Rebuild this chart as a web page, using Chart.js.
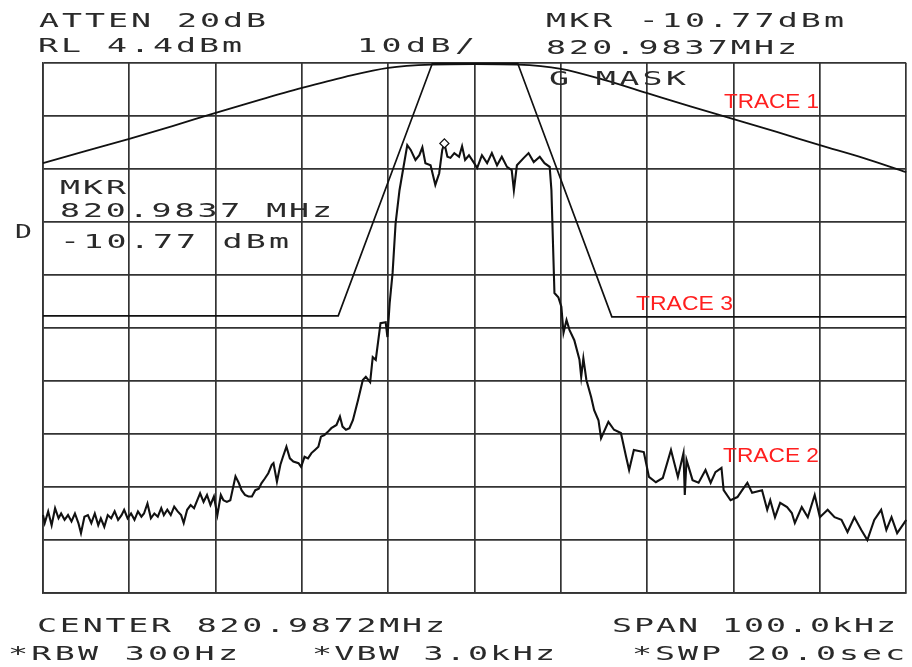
<!DOCTYPE html>
<html><head><meta charset="utf-8">
<script src="https://cdn.jsdelivr.net/npm/chart.js@4/dist/chart.umd.min.js"></script>
<style>html,body{margin:0;padding:0;background:#fff}#wrap{width:912px;height:667px;position:relative;background:#fff}</style>
</head><body><div id="wrap"><canvas id="c" width="912" height="667"></canvas></div>
<script>
// ---- DATA (frequency offset from centre in kHz, level in dBm) ----
const xGridKHz = [-50,-40,-30,-20,-10,0,10,20,30,40,50];
const yGridDBm = [4.4,-5.6,-15.6,-25.6,-35.6,-45.6,-55.6,-65.6,-75.6,-85.6,-95.6];

const trace1Freq  = [-50,-45,-40,-35,-30,-25,-20,-15,-10,-5,0,5,10,15,20,25,30,35,40,45,50];
const trace1Level = [-14.5,-12.2,-9.9,-7.5,-5.0,-2.6,-0.3,1.8,3.5,4.1,4.2,4.1,3.3,1.2,-1.3,-3.8,-6.2,-8.6,-11.1,-13.5,-16.2];

const maskFreq  = [-50,-15.8,-4.9,5.0,15.9,50];
const maskLevel = [-43.3,-43.3,4.3,4.3,-43.5,-43.5];

const trace2Freq = [
-50.0,-49.8,-49.4,-49.0,-48.6,-48.2,-47.9,-47.5,-47.1,-46.7,-46.3,-45.9,-45.6,-45.2,-44.8,-44.4,-44.0,-43.6,-43.3,-42.9,
-42.5,-42.1,-41.7,-41.3,-40.9,-40.6,-40.2,-39.8,-39.4,-39.0,-38.6,-38.3,-37.9,-37.5,-37.1,-36.7,-36.3,-36.0,-35.6,-35.2,
-34.8,-34.4,-34.0,-33.7,-33.3,-32.9,-32.5,-32.1,-31.8,-31.4,-31.0,-30.6,-30.2,-29.8,-29.4,
-29.1,-28.7,-28.3,-27.7,-27.3,-27.0,-26.6,-26.2,-25.8,-25.4,-25.0,-24.7,-24.3,-23.9,-23.5,-23.3,-22.9,-22.5,-22.2,-21.8,
-21.4,-21.0,-20.4,-20.1,-19.7,-19.3,-18.9,-18.5,-18.1,-17.8,-17.4,-17.0,-16.6,-16.0,-15.6,-15.3,-14.9,-14.5,-14.1,-13.5,
-12.95,-12.6,-12.1,-11.8,-11.45,-10.9,-10.3,-10.1,-9.84,-9.5,-9.15,-8.7,-8.55,
-7.8,-7.4,-6.85,-6.4,-6.05,-5.7,-5.1,-4.55,-4.1,-3.75,-3.5,-3.15,-2.8,-2.35,-1.8,-1.45,-1.1,-0.65,-0.05,0.3,
0.85,1.45,2.0,2.6,3.15,3.75,4.3,4.55,4.9,5.7,6.25,6.85,7.55,8.1,8.7,
8.9,9.25,9.7,10.05,10.3,10.65,11.0,11.55,12.15,12.35,12.6,12.95,13.5,13.85,14.35,14.65,15.5,16.15,16.95,17.55,
17.9,18.45,19.6,20.2,21.0,21.8,22.75,23.55,24.2,24.35,24.55,25.25,25.95,26.75,27.35,27.9,28.6,28.85,29.65,30.45,
31.0,31.6,32.15,33.3,33.9,34.25,34.8,35.4,36.2,36.75,37.1,37.9,38.6,39.4,40.0,40.9,41.7,42.5,43.2,44.0,
44.8,45.5,46.3,47.1,47.7,48.3,48.95,49.75,50.0];
const trace2Level = [
-80.9,-82.4,-80.2,-82.8,-79.6,-81.5,-80.6,-81.8,-80.9,-82.1,-80.6,-82.4,-84.3,-81.2,-80.9,-82.4,-80.6,-82.8,-81.5,-83.1,
-80.9,-81.5,-80.2,-81.8,-80.9,-79.9,-81.5,-80.6,-81.8,-80.2,-81.2,-80.6,-78.7,-81.5,-80.6,-81.2,-79.6,-80.9,-79.9,-80.9,
-79.3,-80.2,-80.9,-82.4,-79.9,-79.0,-79.6,-78.0,-76.8,-78.4,-77.1,-79.0,-77.4,-80.9,-77.1,
-78.1,-78.4,-78.1,-73.6,-74.9,-76.2,-77.1,-77.4,-77.4,-76.2,-75.9,-74.9,-74.0,-73.0,-71.4,-71.1,-74.6,-71.4,-69.9,-68.0,
-70.2,-70.8,-71.1,-71.8,-69.9,-70.2,-69.2,-68.6,-68.0,-66.1,-65.8,-65.2,-64.5,-63.9,-62.3,-64.2,-64.8,-64.5,-63.0,-59.2,
-55.4,-54.8,-55.8,-51.1,-51.6,-44.7,-44.5,-47.3,-40.9,-35.2,-25.8,-19.6,-18.2,
-11.1,-12.0,-13.9,-13.0,-11.5,-14.5,-14.9,-18.6,-16.4,-12.0,-10.77,-13.3,-13.5,-12.6,-13.3,-11.3,-13.9,-13.0,-14.5,-15.4,
-13.0,-14.5,-12.6,-14.9,-13.3,-15.2,-15.8,-19.6,-14.9,-13.5,-12.6,-14.3,-13.3,-14.5,-15.2,
-19.6,-39.0,-39.8,-41.6,-46.5,-44.1,-46.0,-47.9,-51.6,-54.8,-51.3,-55.4,-58.6,-61.1,-63.0,-66.4,-63.3,-64.8,-65.4,-69.9,
-72.4,-68.6,-69.0,-73.7,-74.7,-73.9,-68.6,-73.7,-69.2,-77.1,-70.5,-74.3,-74.8,-72.4,-74.8,-72.8,-72.0,-76.2,-78.1,-77.5,
-76.2,-74.8,-76.7,-76.2,-79.9,-78.1,-81.3,-78.6,-79.4,-80.5,-82.4,-79.4,-81.3,-77.1,-81.3,-79.9,-81.3,-81.8,-84.1,-81.3,
-83.7,-85.6,-81.8,-79.9,-83.7,-81.3,-84.3,-82.4,-81.8];

const markerFreq  = [-3.5];
const markerLevel = [-10.77];

// ---- TEXT ----
const monoLabels = [
  {t:'ATTEN 20dB',        x:39,  y:27,  w:227},
  {t:'RL 4.4dBm',         x:38,  y:52,  w:204},
  {t:'10dB/',             x:357, y:52,  w:118},
  {t:'MKR -10.77dBm',     x:546, y:27,  w:298},
  {t:'820.9837MHz',       x:546, y:54,  w:251},
  {t:'G MASK',            x:549, y:85,  w:137},
  {t:'MKR',               x:60,  y:194, w:66},
  {t:'820.9837 MHz',      x:60,  y:217, w:272},
  {t:'-10.77 dBm',        x:60,  y:248, w:229},
  {t:'D',                 x:15,  y:238, w:17},
  {t:'CENTER 820.9872MHz',x:37,  y:632, w:408},
  {t:'SPAN 100.0kHz',     x:612, y:632, w:284},
  {t:'*RBW 300Hz',        x:8,   y:660, w:230},
  {t:'*VBW 3.0kHz',       x:312, y:660, w:243},
  {t:'*SWP 20.0sec',      x:632, y:660, w:273}
];
const redLabels = [
  {t:'TRACE 1', x:724, y:108, w:95},
  {t:'TRACE 3', x:636, y:310, w:97},
  {t:'TRACE 2', x:723, y:462, w:96}
];

const zip = (xs, ys) => xs.map((x, i) => ({x: x, y: ys[i]}));

const textPlugin = {
  id: 'analyzerText',
  afterDraw(chart) {
    const ctx = chart.ctx;
    monoLabels.forEach(l => {
      ctx.save();
      ctx.font = '19px "DejaVu Sans Mono"';
      ctx.fillStyle = '#2a2a2a';
      ctx.textBaseline = 'alphabetic';
      const sx = 1.75;
      ctx.letterSpacing = '0px';
      const w = ctx.measureText(l.t).width;
      const n = l.t.length;
      const ls = n > 1 ? (l.w / sx - w) / (n - 1) : 0;
      ctx.letterSpacing = ls.toFixed(2) + 'px';
      ctx.translate(l.x, l.y);
      ctx.scale(n > 1 ? sx : l.w / w, 1);
      ctx.fillText(l.t, 0, 0);
      ctx.restore();
    });
    redLabels.forEach(l => {
      ctx.save();
      ctx.font = '21px "Liberation Sans"';
      ctx.fillStyle = '#ff1f1f';
      ctx.textBaseline = 'alphabetic';
      const w = ctx.measureText(l.t).width;
      ctx.translate(l.x, l.y);
      ctx.scale(l.w / w, 1);
      ctx.fillText(l.t, 0, 0);
      ctx.restore();
    });
  }
};

const gridColor = '#333333';
new Chart(document.getElementById('c'), {
  type: 'line',
  data: {
    datasets: [
      {label:'Marker', data: zip(markerFreq, markerLevel), showLine:false, pointStyle:'rectRot',
       pointRadius:4.5, pointBackgroundColor:'#ffffff', pointBorderColor:'#111', pointBorderWidth:1.3, clip:8},
      {label:'Trace 2', data: zip(trace2Freq, trace2Level), borderColor:'#111', borderWidth:2.1,
       pointRadius:0, tension:0, clip:4},
      {label:'Trace 1', data: zip(trace1Freq, trace1Level), borderColor:'#111', borderWidth:1.8,
       pointRadius:0, tension:0.3, cubicInterpolationMode:'monotone', clip:4},
      {label:'Trace 3 (mask)', data: zip(maskFreq, maskLevel), borderColor:'#111', borderWidth:1.7,
       pointRadius:0, tension:0, clip:4}
    ]
  },
  options: {
    responsive:false, animation:false, devicePixelRatio:1,
    layout:{padding:{left:43, top:63, right:0, bottom:74}},
    plugins:{legend:{display:false}, tooltip:{enabled:false}, title:{display:false}},
    scales:{
      x:{type:'linear', min:-50, max:50,
         afterBuildTicks: s => { s.ticks = xGridKHz.map(v => ({value:v})); },
         ticks:{display:false},
         grid:{color:gridColor, lineWidth:1.7, drawTicks:false},
         border:{display:true, color:gridColor, width:1.7}},
      y:{type:'linear', min:-95.6, max:4.4,
         afterBuildTicks: s => { s.ticks = yGridDBm.map(v => ({value:v})); },
         ticks:{display:false},
         grid:{color:gridColor, lineWidth:1.7, drawTicks:false},
         border:{display:true, color:gridColor, width:1.7}}
    }
  },
  plugins:[textPlugin]
});
</script>
</body></html>
